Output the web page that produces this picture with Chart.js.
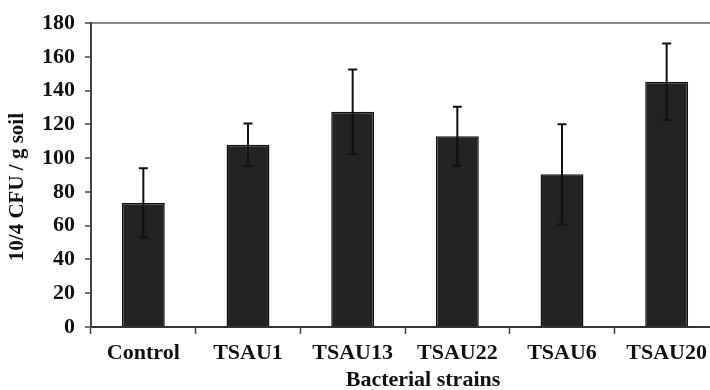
<!DOCTYPE html>
<html>
<head>
<meta charset="utf-8">
<script src="https://cdn.jsdelivr.net/npm/chart.js@4/dist/chart.umd.min.js"></script>
<style>
  html, body { margin: 0; padding: 0; background: #fff; overflow: hidden; }
  #wrap { width: 720px; height: 390px; }
</style>
</head>
<body>
<div id="wrap"><canvas id="cfuChart" width="720" height="390"></canvas></div>
<script>
// values
const strains = ["Control", "TSAU1", "TSAU13", "TSAU22", "TSAU6", "TSAU20"];
const cfuMeans = [73.5, 108, 127.5, 113, 90.5, 145.3];
const cfuErrors = [20.5, 12.5, 25, 17.5, 29.7, 22.7];
const yTicks = [0, 20, 40, 60, 80, 100, 120, 140, 160, 180];

const serif = "'Liberation Serif', 'Times New Roman', serif";

// error bars drawn from the y scale
const errorBars = {
    id: "errorBars",
    afterDatasetsDraw(chart) {
        const ctx = chart.ctx;
        const y = chart.scales.y;
        const bars = chart.getDatasetMeta(0).data;
        ctx.save();
        ctx.strokeStyle = "#111";
        ctx.lineWidth = 2;
        bars.forEach((bar, i) => {
            const top = y.getPixelForValue(cfuMeans[i] + cfuErrors[i]);
            const bottom = y.getPixelForValue(cfuMeans[i] - cfuErrors[i]);
            ctx.beginPath();
            ctx.moveTo(bar.x, top);
            ctx.lineTo(bar.x, bottom);
            ctx.moveTo(bar.x - 4.5, top);
            ctx.lineTo(bar.x + 4.5, top);
            ctx.moveTo(bar.x - 4.5, bottom);
            ctx.lineTo(bar.x + 4.5, bottom);
            ctx.stroke();
        });
        ctx.restore();
    }
};

// axis titles are a little off-centre in the original, so draw them by hand
const axisTitles = {
    id: "axisTitles",
    afterDraw(chart) {
        const ctx = chart.ctx;
        const area = chart.chartArea;
        ctx.save();
        ctx.fillStyle = "#111";
        ctx.textAlign = "center";

        ctx.font = "bold 22px " + serif;
        ctx.textBaseline = "alphabetic";
        ctx.fillText("Bacterial strains", (area.left + area.right) / 2 + 18, 386);

        ctx.font = "bold 21px " + serif;
        ctx.textBaseline = "middle";
        ctx.translate(18, (area.top + area.bottom) / 2 + 12);
        ctx.rotate(-Math.PI / 2);
        ctx.fillText("10/4 CFU / g soil", 0, 0);
        ctx.restore();
    }
};

new Chart(document.getElementById("cfuChart"), {
    type: "bar",
    data: {
        labels: strains,
        datasets: [{
            label: "10/4 CFU / g soil",
            data: cfuMeans,
            backgroundColor: "#232323",
            borderColor: "#111",
            borderWidth: 1.5,
            categoryPercentage: 1.0,
            barPercentage: 0.41
        }]
    },
    options: {
        responsive: false,
        animation: false,
        layout: { padding: { top: 20, right: 1, left: 0, bottom: 0 } },
        plugins: {
            legend: { display: false },
            tooltip: { enabled: false }
        },
        scales: {
            x: {
                afterFit: scale => { scale.height = 63; },
                grid: {
                    offset: true,
                    drawOnChartArea: false,
                    tickLength: 7,
                    tickColor: "#444",
                    tickWidth: 1.5
                },
                border: { color: "#333", width: 2 },
                ticks: {
                    padding: 6,
                    color: "#111",
                    font: { family: serif, size: 22, weight: "bold" }
                }
            },
            y: {
                min: 0,
                max: 180,
                afterFit: scale => { scale.width = 91; },
                afterBuildTicks: scale => {
                    scale.ticks = yTicks.map(v => ({ value: v }));
                },
                grid: {
                    color: c => (c.tick && c.tick.value === 180) ? "#8a8a8a" : "transparent",
                    lineWidth: 2,
                    tickColor: "#444",
                    tickLength: 6,
                    tickWidth: 1.5
                },
                border: { color: "#444", width: 2 },
                ticks: {
                    padding: 10,
                    color: "#111",
                    font: { family: serif, size: 22, weight: "bold" }
                }
            }
        }
    },
    plugins: [errorBars, axisTitles]
});
</script>
</body>
</html>
